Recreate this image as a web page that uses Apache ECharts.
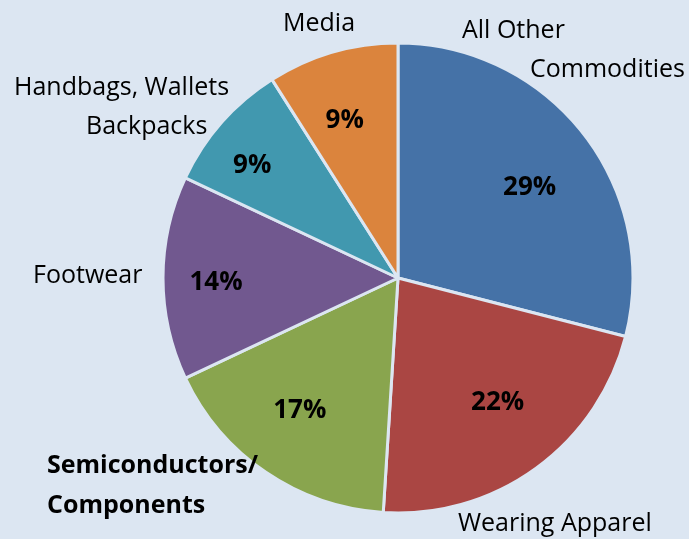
<!DOCTYPE html>
<html><head><meta charset="utf-8">
<script src="https://cdn.jsdelivr.net/npm/echarts@6/dist/echarts.min.js"></script>
<style>html,body{margin:0;padding:0;background:#dce6f2;}#c{width:689px;height:539px;}</style>
</head><body><div id="c"></div>
<script>
const categories = ["All Other\nCommodities", "Wearing Apparel", "Semiconductors/\nComponents", "Footwear", "Handbags, Wallets\nBackpacks", "Media"];
const values = [29, 22, 17, 14, 9, 9];
const colors = ["#4572a7", "#aa4643", "#89a54e", "#71588f", "#4198af", "#db843d"];
// label anchor positions (top-left of text block) and second-line indents
const labelPos = [[462, 11], [458, 504], [47, 446], [33, 256], [14, 68], [283, 4]];
const secondIndent = [68, 0, 0, 0, 72, 0];
const boldName = [false, false, true, false, false, false];
const pctOffset = [[-5, 16], [-2, -15], [-1, -10], [-9, 5], [-16, 2], [-5, 9]];

const FONT = "'Open Sans', sans-serif";
const chart = echarts.init(document.getElementById('c'));
const bg = '#dce6f2';
const center = [398, 278];
const R = 235;

const nameData = categories.map((c, i) => {
  const lines = c.split('\n');
  const st = boldName[i] ? 'b' : 'n';
  const txt = lines.map((l, j) => '{' + st + (j > 0 ? 'i' + i : '') + '|' + l + '}').join('\n');
  return { name: c, value: values[i], itemStyle: { color: colors[i] }, label: { formatter: txt } };
});
const rich = {
  n: { fontFamily: FONT, fontSize: 25, color: '#000', lineHeight: 39 },
  b: { fontFamily: FONT, fontSize: 25, fontWeight: 'bold', color: '#000', lineHeight: 40 }
};
secondIndent.forEach((p, i) => {
  rich['ni' + i] = Object.assign({}, rich.n, { padding: [0, 0, 0, p] });
  rich['bi' + i] = Object.assign({}, rich.b, { padding: [0, 0, 0, p] });
});

chart.setOption({
  backgroundColor: bg,
  animation: false,
  series: [
    {
      type: 'pie', center: center, radius: [0, R], startAngle: 90, clockwise: true,
      avoidLabelOverlap: false,
      itemStyle: { borderColor: bg, borderWidth: 3 },
      label: { show: true, position: 'outside', rich: rich },
      labelLine: { show: false },
      labelLayout: function (p) {
        const pos = labelPos[p.dataIndex];
        return { x: pos[0], y: pos[1], align: 'left', verticalAlign: 'top' };
      },
      data: nameData
    },
    {
      type: 'pie', center: center, radius: [0, 2 * 170], startAngle: 90, clockwise: true,
      silent: true, avoidLabelOverlap: false,
      itemStyle: { color: 'rgba(0,0,0,0)', borderWidth: 0 },
      label: { show: true, position: 'inside', formatter: '{c}%', fontFamily: FONT, fontSize: 26, fontWeight: 'bold', color: '#000' },
      labelLine: { show: false },
      data: categories.map((c, i) => ({ name: c, value: values[i], label: { offset: pctOffset[i] } }))
    }
  ]
});
</script></body></html>
